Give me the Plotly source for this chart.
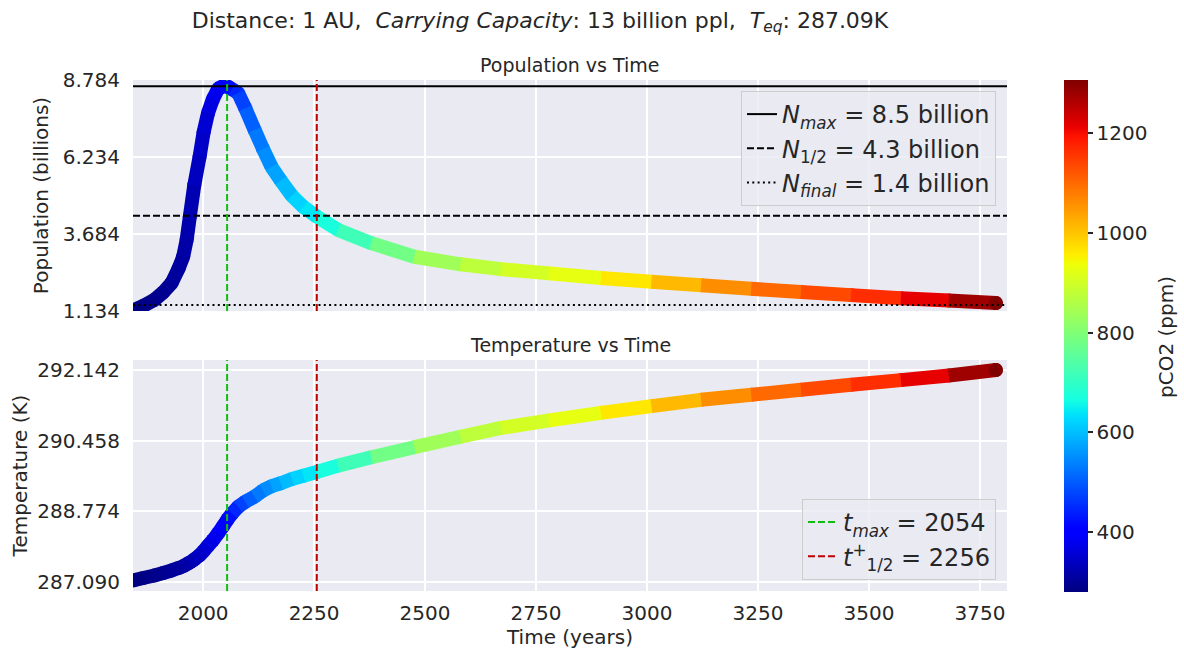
import numpy as np
import plotly.graph_objects as go

# ---------------- data ----------------
years = [1842, 1865, 1890, 1910, 1929, 1945, 1955, 1963, 1970, 1980, 1992, 2001,
         2011, 2022, 2034, 2045, 2055, 2065, 2079, 2095, 2116, 2135, 2154, 2175,
         2200, 2226, 2256, 2304, 2379, 2476, 2580, 2671, 2780, 2896, 3010, 3122,
         3235, 3347, 3460, 3572, 3680, 3786]
population = [1.15, 1.30, 1.50, 1.75, 2.06, 2.55, 2.93, 3.50, 4.26, 5.30, 6.24, 7.05,
              7.69, 8.15, 8.50, 8.58, 8.57, 8.48, 8.35, 7.85, 7.13, 6.50, 5.91, 5.45,
              4.95, 4.58, 4.26, 3.82, 3.38, 2.93, 2.68, 2.52, 2.38, 2.23, 2.10, 1.99,
              1.87, 1.76, 1.66, 1.56, 1.48, 1.40]
temperature = [287.12, 287.18, 287.24, 287.30, 287.36, 287.42, 287.46, 287.51, 287.55,
               287.62, 287.72, 287.82, 287.95, 288.08, 288.25, 288.42, 288.58, 288.72,
               288.88, 289.00, 289.12, 289.27, 289.37, 289.44, 289.54, 289.62, 289.71,
               289.86, 290.06, 290.30, 290.55, 290.76, 290.94, 291.12, 291.28, 291.43,
               291.55, 291.67, 291.79, 291.90, 292.01, 292.14]
pco2 = [280, 285, 290, 296, 302, 308, 312, 317, 322, 330, 340, 348,
        360, 372, 385, 398, 410, 430, 460, 490, 520, 540, 560, 585,
        610, 630, 650, 690, 745, 815, 860, 890, 915, 940, 985, 1040,
        1080, 1120, 1150, 1180, 1250, 1306]

x_range = [1842, 3811]
x_ticks = [2000, 2250, 2500, 2750, 3000, 3250, 3500, 3750]
pop_ticks = [1.134, 3.684, 6.234, 8.784]
pop_range = [1.134, 8.784]
temp_ticks = [287.090, 288.774, 290.458, 292.142]
temp_range = [286.87, 292.38]
pco2_range = [280, 1306]
cbar_ticks = [400, 600, 800, 1000, 1200]

n_max, n_half, n_final = 8.58, 4.29, 1.33
t_max, t_half = 2054, 2256

n_labels = ["<i>N</i><sub><i>max</i></sub> = 8.5 billion",
            "<i>N</i><sub>1/2</sub> = 4.3 billion",
            "<i>N</i><sub><i>final</i></sub> = 1.4 billion"]
t_labels = ["<i>t</i><sub><i>max</i></sub> = 2054",
            "<i>t</i><sup>+</sup><sub>1/2</sub> = 2256"]

# ---------------- matplotlib "jet" colormap ----------------
_r = ([0, 0.35, 0.66, 0.89, 1], [0, 0, 1, 1, 0.5])
_g = ([0, 0.125, 0.375, 0.64, 0.91, 1], [0, 0, 1, 1, 0, 0])
_b = ([0, 0.11, 0.34, 0.65, 1], [0.5, 1, 1, 0, 0])


def jet(t):
    t = float(np.clip(t, 0, 1))
    r = np.interp(t, *_r)
    g = np.interp(t, *_g)
    b = np.interp(t, *_b)
    return "rgb(%d,%d,%d)" % (round(r * 255), round(g * 255), round(b * 255))


stops = sorted(set(list(np.linspace(0, 1, 41)) + _r[0] + _g[0] + _b[0]))
jet_scale = [[float(s), jet(s)] for s in stops]

TXT = "#262626"
FONT = "DejaVu Sans"
BG = "#EAEAF2"
LW = 14


def norm(v):
    return (v - pco2_range[0]) / (pco2_range[1] - pco2_range[0])


fig = go.Figure()


def add_curve(yvals, xa, ya, showscale):
    fig.add_trace(go.Scatter(
        x=years, y=yvals, mode="markers", xaxis=xa, yaxis=ya, showlegend=False,
        marker=dict(size=LW, color=pco2, colorscale=jet_scale,
                    cmin=pco2_range[0], cmax=pco2_range[1], line=dict(width=0),
                    showscale=showscale,
                    colorbar=dict(x=(1064 - 133) / 874, xanchor="left", xpad=0,
                                  y=(591 - 336) / 511, yanchor="middle", ypad=0,
                                  len=512, lenmode="pixels",
                                  thickness=24, outlinewidth=0, ticks="outside",
                                  ticklen=5, tickwidth=1.5, tickcolor=TXT,
                                  tickvals=cbar_ticks,
                                  tickfont=dict(size=20, color=TXT, family=FONT))),
        hovertemplate="%{x}: %{y}<extra></extra>"))
    for i in range(len(years) - 1):
        c = jet(norm(0.5 * (pco2[i] + pco2[i + 1])))
        fig.add_trace(go.Scatter(
            x=[years[i], years[i + 1]], y=[yvals[i], yvals[i + 1]],
            mode="lines", line=dict(color=c, width=LW),
            xaxis=xa, yaxis=ya, showlegend=False, hoverinfo="skip"))
    # round end cap at the final point
    fig.add_trace(go.Scatter(
        x=years[-1:], y=yvals[-1:], mode="markers", xaxis=xa, yaxis=ya,
        showlegend=False, hoverinfo="skip",
        marker=dict(size=LW, color=jet(norm(pco2[-1])), line=dict(width=0))))


add_curve(population, "x", "y", True)
add_curve(temperature, "x2", "y2", False)

# horizontal population reference lines (top legend)
for val, dash, lab in [(n_max, "solid", n_labels[0]),
                       (n_half, "7px,3px", n_labels[1]),
                       (n_final, "2px,3.3px", n_labels[2])]:
    fig.add_trace(go.Scatter(x=x_range, y=[val, val], mode="lines", name=lab,
                             line=dict(color="black", width=2, dash=dash),
                             xaxis="x", yaxis="y", legend="legend"))

# vertical time lines
for val, col, lab in [(t_max, "#0fbf0f", t_labels[0]), (t_half, "#c00000", t_labels[1])]:
    fig.add_trace(go.Scatter(x=[val, val], y=pop_range, mode="lines", showlegend=False,
                             line=dict(color=col, width=2, dash="7px,3px"),
                             xaxis="x", yaxis="y"))
    fig.add_trace(go.Scatter(x=[val, val], y=temp_range, mode="lines", name=lab,
                             line=dict(color=col, width=2, dash="7px,3px"),
                             xaxis="x2", yaxis="y2", legend="legend2"))

top_dom = [(591 - 311) / 511, 1.0]
bot_dom = [0.0, 231 / 511]

axis_common = dict(showgrid=True, gridcolor="white", gridwidth=1.6, zeroline=False,
                   showline=False, ticks="", automargin=False,
                   tickfont=dict(size=20, color=TXT, family=FONT))

leg_common = dict(bgcolor="rgba(234,234,242,0.8)", bordercolor="#cccccc", borderwidth=1,
                  font=dict(size=24, color=TXT, family=FONT), xanchor="right", x=0.9874)

fig.update_layout(
    width=1184, height=650,
    margin=dict(l=133, r=177, t=80, b=59, autoexpand=False),
    paper_bgcolor="white", plot_bgcolor=BG,
    font=dict(family=FONT, color=TXT),
    title=dict(text="Distance: 1 AU,  <i>Carrying Capacity</i>: 13 billion ppl,  "
                    "<i>T</i><sub><i>eq</i></sub>: 287.09K",
               x=540 / 1184, xref="container", xanchor="center",
               y=1 - 20 / 650, yref="container", yanchor="middle",
               font=dict(size=22, color=TXT, family=FONT)),
    xaxis=dict(domain=[0, 1], anchor="y", range=x_range, tickvals=x_ticks,
               showticklabels=False, matches="x2", **axis_common),
    yaxis=dict(domain=top_dom, anchor="x", range=pop_range, tickvals=pop_ticks,
               ticktext=["%.3f" % v for v in pop_ticks], ticklabelstandoff=12,
               title=dict(text="Population (billions)", standoff=8,
                          font=dict(size=20, color=TXT, family=FONT)), **axis_common),
    xaxis2=dict(domain=[0, 1], anchor="y2", range=x_range, tickvals=x_ticks,
                ticklabelstandoff=8,
                title=dict(text="Time (years)", standoff=4,
                           font=dict(size=20, color=TXT, family=FONT)), **axis_common),
    yaxis2=dict(domain=bot_dom, anchor="x2", range=temp_range, tickvals=temp_ticks,
                ticktext=["%.3f" % v for v in temp_ticks], ticklabelstandoff=12,
                title=dict(text="Temperature (K)", standoff=4,
                           font=dict(size=20, color=TXT, family=FONT)), **axis_common),
    legend=dict(yanchor="top", y=(591 - 91) / 511, **leg_common),
    legend2=dict(yanchor="bottom", y=(591 - 580) / 511, **leg_common),
    annotations=[
        dict(text="Population vs Time", x=0.5, xref="paper", y=top_dom[1], yref="paper",
             xanchor="center", yanchor="bottom", yshift=2, showarrow=False,
             font=dict(size=19, color=TXT, family=FONT)),
        dict(text="Temperature vs Time", x=0.5, xref="paper", y=bot_dom[1], yref="paper",
             xanchor="center", yanchor="bottom", yshift=2, showarrow=False,
             font=dict(size=19, color=TXT, family=FONT)),
        dict(text="pCO2 (ppm)", x=(1166 - 133) / 874, xref="paper", y=(591 - 337) / 511,
             yref="paper", xanchor="center", yanchor="middle", textangle=-90,
             showarrow=False, font=dict(size=20, color=TXT, family=FONT)),
    ],
)

fig.write_html("out.html")
